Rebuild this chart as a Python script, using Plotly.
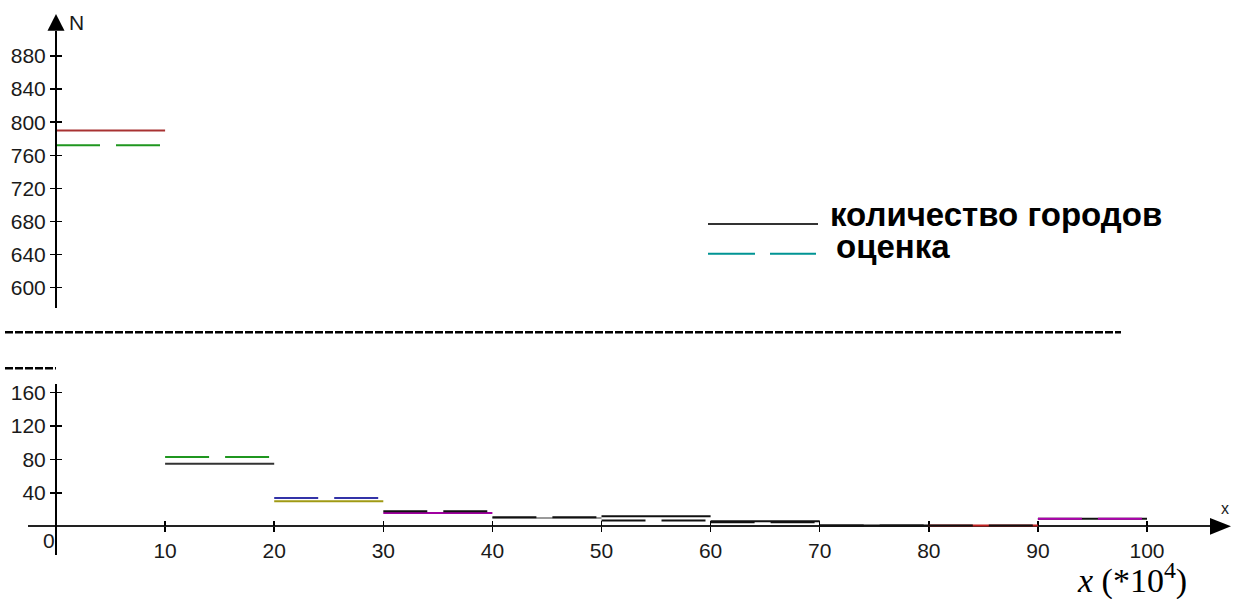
import plotly.graph_objects as go

# ---- data: number of towns per population bin (x in units of 10^4) ----
bin_edges = [0, 10, 20, 30, 40, 50, 60, 70, 80, 90, 100]
town_counts = [790, 75, 30, 16, 10, 12, 6, 1, 1, 9]
estimates = [772, 83, 34, 18, 11, 7, 5, 1, 1, 9]
count_colors = ["#a83232", "#333333", "#a09a14", "#a000a0", "#9a9a9a",
                "#111111", "#111111", "#111111", "#c02020", "#111111"]
estimate_colors = ["#1f961f", "#1f961f", "#3333a8", "#111111", "#111111",
                   "#111111", "#111111", "#111111", "#111111", "#b000b0"]
top_ticks = [600, 640, 680, 720, 760, 800, 840, 880]
bottom_ticks = [40, 80, 120, 160]
x_ticks = [10, 20, 30, 40, 50, 60, 70, 80, 90, 100]
legend_labels = ["количество городов", "оценка"]

W, H = 1235, 599


def px(x):
    return x / W


def py(y):
    return 1 - y / H


# pixel geometry of the axes
X0, XS = 56, 10.91           # x = 0 pixel, pixels per unit
TOP_REF, TOP_S = 286, 0.831  # pixel of 600 on the upper axis, px per unit
BOT_REF, BOT_S = 526, 0.84   # pixel of 0 on the lower axis, px per unit

x_range = [(28 - X0) / XS, (1211 - X0) / XS]
top_range = [600 - (307 - TOP_REF) / TOP_S, 600 + (TOP_REF - 28) / TOP_S]
bot_range = [-(555 - BOT_REF) / BOT_S, (BOT_REF - 383) / BOT_S]

TICK_FONT = dict(family="Liberation Sans, Arial, sans-serif", size=21, color="#1a1a1a")
DASH = "44px,16px"

fig = go.Figure()


def panel(v):
    return "y" if v >= 500 else "y2"


# solid lines (town counts) first, dashed estimates on top
for i, v in enumerate(town_counts):
    fig.add_trace(go.Scatter(
        x=[bin_edges[i], bin_edges[i + 1]], y=[v, v], mode="lines",
        line=dict(color=count_colors[i], width=2), yaxis=panel(v),
        showlegend=False, hoverinfo="skip"))
for i, v in enumerate(estimates):
    fig.add_trace(go.Scatter(
        x=[bin_edges[i], bin_edges[i + 1]], y=[v, v], mode="lines",
        line=dict(color=estimate_colors[i], width=2, dash=DASH), yaxis=panel(v),
        showlegend=False, hoverinfo="skip"))

# empty traces so the tick-cross overlay axes are drawn
fig.add_trace(go.Scatter(x=[], y=[], xaxis="x2", yaxis="y3", showlegend=False))
fig.add_trace(go.Scatter(x=[], y=[], xaxis="x2", yaxis="y4", showlegend=False))

common_y = dict(showgrid=False, zeroline=False, anchor="free", position=px(X0),
                ticklen=5, tickwidth=1.5, tickcolor="black", fixedrange=True)

fig.update_layout(
    width=W, height=H, autosize=False,
    margin=dict(l=0, r=0, t=0, b=0),
    paper_bgcolor="white", plot_bgcolor="rgba(0,0,0,0)",
    showlegend=False,
    xaxis=dict(domain=[px(28), px(1211)], range=x_range, anchor="free",
               position=py(BOT_REF), showline=True, linecolor="#222", linewidth=2,
               showgrid=False, zeroline=False, tickvals=x_ticks,
               ticks="outside", ticklen=5, tickwidth=1.5, tickcolor="black",
               tickfont=TICK_FONT, ticklabelstandoff=0,
               layer="below traces", fixedrange=True),
    xaxis2=dict(domain=[px(28), px(1211)], range=x_range, overlaying="x",
                anchor="free", position=py(BOT_REF), showline=False,
                showgrid=False, zeroline=False, tickvals=x_ticks,
                ticks="inside", ticklen=5, tickwidth=1.5, tickcolor="black",
                showticklabels=False, fixedrange=True),
    yaxis=dict(domain=[py(307), py(28)], range=top_range, tickvals=top_ticks,
               showline=True, linecolor="black", linewidth=2, ticks="outside",
               tickfont=TICK_FONT, **common_y),
    yaxis2=dict(domain=[py(555), py(383)], range=bot_range, tickvals=bottom_ticks,
                showline=True, linecolor="black", linewidth=2, ticks="outside",
                tickfont=TICK_FONT, **common_y),
    yaxis3=dict(domain=[py(307), py(28)], range=top_range, tickvals=top_ticks,
                overlaying="y", showline=False, ticks="inside",
                showticklabels=False, **common_y),
    yaxis4=dict(domain=[py(555), py(383)], range=bot_range, tickvals=bottom_ticks,
                overlaying="y2", showline=False, ticks="inside",
                showticklabels=False, **common_y),
)

shapes = []
# arrowheads of the axes
shapes.append(dict(type="path", xref="paper", yref="paper",
                   path=f"M {px(56)} {py(11)} L {px(47.5)} {py(28)} L {px(64.5)} {py(28)} Z",
                   fillcolor="black", line=dict(width=0)))
shapes.append(dict(type="path", xref="paper", yref="paper",
                   path=f"M {px(1231)} {py(526)} L {px(1210)} {py(517.5)} L {px(1210)} {py(534.5)} Z",
                   fillcolor="black", line=dict(width=0)))
# dashed break between the two panels
shapes.append(dict(type="line", xref="paper", yref="paper",
                   x0=px(5), x1=px(1121), y0=py(331), y1=py(331),
                   line=dict(color="black", width=2.5, dash="8px,2px")))
shapes.append(dict(type="line", xref="paper", yref="paper",
                   x0=px(5), x1=px(56), y0=py(367), y1=py(367),
                   line=dict(color="black", width=2.5, dash="8px,2px")))
# legend keys
shapes.append(dict(type="line", xref="paper", yref="paper",
                   x0=px(708), x1=px(818), y0=py(222), y1=py(222),
                   line=dict(color="#333333", width=2)))
shapes.append(dict(type="line", xref="paper", yref="paper",
                   x0=px(708), x1=px(816), y0=py(252), y1=py(252),
                   line=dict(color="#009494", width=2, dash="47px,15px")))
fig.update_layout(shapes=shapes)

LEG_FONT = dict(family="Liberation Sans, Arial, sans-serif", size=33, color="black", weight="bold")
annotations = [
    dict(x=px(828), y=py(213), text=legend_labels[0], xanchor="left", yanchor="middle",
         font=LEG_FONT),
    dict(x=px(834), y=py(245), text=legend_labels[1], xanchor="left", yanchor="middle",
         font=LEG_FONT),
    dict(x=px(67), y=py(20), text="N", xanchor="left", yanchor="middle",
         font=dict(family="Liberation Sans, Arial, sans-serif", size=21, color="#1a1a1a")),
    dict(x=px(1225), y=py(508), text="x", xanchor="center", yanchor="middle",
         font=dict(family="Liberation Sans, Arial, sans-serif", size=16, color="#1a1a1a")),
    dict(x=px(49), y=py(540), text="0", xanchor="center", yanchor="middle",
         font=TICK_FONT),
    dict(x=px(1075), y=py(578), text="<i>x</i> (*10<sup>4</sup>)", xanchor="left",
         yanchor="middle",
         font=dict(family="Liberation Serif, Times New Roman, serif", size=34, color="black")),
]
for a in annotations:
    a.update(xref="paper", yref="paper", showarrow=False)
fig.update_layout(annotations=annotations)

fig.write_html("out.html", config={"displayModeBar": False, "staticPlot": True})
